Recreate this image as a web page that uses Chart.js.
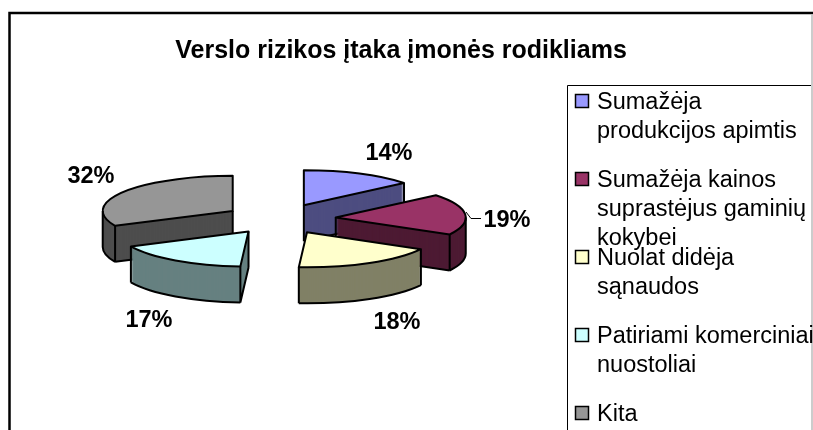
<!DOCTYPE html>
<html><head><meta charset="utf-8">
<style>html,body{margin:0;padding:0;background:#fff}canvas{display:block}</style>
<script src="https://cdn.jsdelivr.net/npm/chart.js@4"></script>
</head><body><canvas id="c" width="813" height="430"></canvas>
<script>
const chartTitle = 'Verslo rizikos įtaka įmonės rodikliams';
const categories = [
  ['Sumažėja', 'produkcijos apimtis'],
  ['Sumažėja kainos', 'suprastėjus gaminių', 'kokybei'],
  ['Nuolat didėja', 'sąnaudos'],
  ['Patiriami komerciniai', 'nuostoliai'],
  ['Kita']
];
const percentages = [14, 19, 18, 17, 32];
const topColors = ['#9999ff', '#993366', '#ffffcc', '#ccffff', '#969696'];
const wallColors = ['#4d4d80', '#4d1a33', '#808066', '#668080', '#4d4d4d'];

// Presentation settings
const FONT = '"Liberation Sans", Arial, sans-serif';
const pie = { cx: 280, cy: 219, radius: 130, squash: 0.27, explode: 56, depth: 36 };
const valueLabelAt = [[389, 154], [507, 221], [397, 323], [149, 321], [91, 177]];
const legendFirstLineY = [103, 181, 259, 337, 415];
const legendBox = { left: 567.5, top: 85.5, textX: 597, markX: 575, mark: 13, lineGap: 29, fontSize: 23.5 };

const pie3d = {
  id: 'pie3d',
  afterLayout(chart) {
    chart.titleBlock.left = 0;
    chart.titleBlock.right = 802;
  },
  beforeDatasetsDraw(chart) {
    const ctx = chart.ctx;
    // chart frame
    ctx.save();
    ctx.strokeStyle = '#000';
    ctx.lineWidth = 2.5;
    ctx.beginPath();
    ctx.moveTo(9.5, 430); ctx.lineTo(9.5, 13); ctx.lineTo(813, 13);
    ctx.stroke();
    ctx.strokeStyle = '#bbb';
    ctx.lineWidth = 1.5;
    ctx.beginPath(); ctx.moveTo(812, 14); ctx.lineTo(812, 430); ctx.stroke();
    ctx.strokeStyle = '#000';
    ctx.lineWidth = 1;
    ctx.beginPath();
    ctx.moveTo(legendBox.left, 430); ctx.lineTo(legendBox.left, legendBox.top); ctx.lineTo(811, legendBox.top);
    ctx.stroke();
    ctx.restore();
  },
  beforeDatasetDraw(chart, args) {
    const ctx = chart.ctx;
    const arcs = args.meta.data;
    const order = arcs.map((a, i) => i).sort((p, q) =>
      Math.sin((arcs[p].startAngle + arcs[p].endAngle) / 2) - Math.sin((arcs[q].startAngle + arcs[q].endAngle) / 2));
    for (const i of order) drawSlice(ctx, arcs[i], i);
    return false;
  },
  afterDatasetsDraw(chart) {
    const ctx = chart.ctx;
    ctx.save();
    ctx.fillStyle = '#000';
    // value labels
    ctx.font = 'bold 23.5px ' + FONT;
    ctx.textAlign = 'center';
    ctx.textBaseline = 'middle';
    percentages.forEach((v, i) => ctx.fillText(v + '%', valueLabelAt[i][0], valueLabelAt[i][1]));
    // leader line of the 19% label
    ctx.strokeStyle = '#000';
    ctx.lineWidth = 1;
    ctx.beginPath(); ctx.moveTo(466, 212); ctx.lineTo(471, 218.5); ctx.lineTo(481, 218.5); ctx.stroke();
    // legend
    ctx.textAlign = 'left';
    ctx.font = legendBox.fontSize + 'px ' + FONT;
    categories.forEach((lines, i) => {
      const y = legendFirstLineY[i];
      ctx.fillStyle = topColors[i];
      ctx.strokeStyle = '#000';
      ctx.lineWidth = 1.5;
      ctx.fillRect(legendBox.markX + .5, y - 8.5, legendBox.mark, legendBox.mark);
      ctx.strokeRect(legendBox.markX + .5, y - 8.5, legendBox.mark, legendBox.mark);
      ctx.fillStyle = '#000';
      lines.forEach((t, k) => ctx.fillText(t, legendBox.textX, y + k * legendBox.lineGap));
    });
    ctx.restore();
  }
};

function drawSlice(ctx, arc, i) {
  const mid = (arc.startAngle + arc.endAngle) / 2;
  const ox = pie.cx + Math.cos(mid) * pie.explode;
  const oy = pie.cy + Math.sin(mid) * pie.explode * pie.squash;
  const R = arc.outerRadius, k = pie.squash;
  const base = arc.options;
  const paint = (color, dy) => {
    ctx.save();
    ctx.translate(ox, oy + dy);
    ctx.scale(1, k);
    ctx.translate(-arc.x, -arc.y);
    arc.options = Object.assign({}, base, { backgroundColor: color, borderWidth: 0, borderColor: color });
    arc.draw(ctx);
    ctx.restore();
  };
  // wall: stacked copies of the library's arc, then the top face
  for (let d = pie.depth; d > 0; d--) paint(wallColors[i], d);
  paint(topColors[i], 0);
  arc.options = base;

  const P = (t, dy) => [ox + R * Math.cos(t), oy + dy + R * k * Math.sin(t)];
  const ellipse = (a, b, dy) => ctx.ellipse(ox, oy + dy, R, R * k, 0, a, b);
  const v = (p) => { ctx.moveTo(p[0], p[1]); ctx.lineTo(p[0], p[1] + pie.depth); };
  const a0 = arc.startAngle, a1 = arc.endAngle, D = pie.depth;
  ctx.save();
  ctx.strokeStyle = '#000';
  ctx.lineWidth = 2;
  ctx.lineJoin = 'round';
  ctx.beginPath();
  // visible cut faces
  if (Math.cos(a0) < -1e-6) { const e = P(a0, 0); v([ox, oy]); v(e); ctx.moveTo(ox, oy + D); ctx.lineTo(e[0], e[1] + D); }
  if (Math.cos(a1) > 1e-6) { const e = P(a1, 0); v([ox, oy]); v(e); ctx.moveTo(ox, oy + D); ctx.lineTo(e[0], e[1] + D); }
  // visible outer wall
  const s = Math.max(a0, 0), t = Math.min(a1, Math.PI);
  if (t > s) {
    v(P(s, 0)); v(P(t, 0));
    const e = P(s, D); ctx.moveTo(e[0], e[1]); ellipse(s, t, D);
  }
  ctx.stroke();
  // top face
  ctx.beginPath();
  ctx.moveTo(ox, oy);
  ellipse(a0, a1, 0);
  ctx.closePath();
  ctx.stroke();
  ctx.restore();
}

new Chart(document.getElementById('c'), {
  type: 'pie',
  plugins: [pie3d],
  data: {
    labels: categories.map(l => l.join(' ')),
    datasets: [{ data: percentages, backgroundColor: topColors, borderWidth: 0, radius: pie.radius }]
  },
  options: {
    responsive: false,
    animation: false,
    events: [],
    layout: { padding: { left: pie.cx - pie.radius, right: 813 - pie.cx - pie.radius, top: 0, bottom: 0 } },
    plugins: {
      legend: { display: false },
      tooltip: { enabled: false },
      title: {
        display: true, text: chartTitle, color: '#000',
        font: { family: FONT, size: 25, weight: 'bold', lineHeight: 1.2 },
        padding: { top: 36, bottom: 0 }
      }
    }
  }
});
</script></body></html>
